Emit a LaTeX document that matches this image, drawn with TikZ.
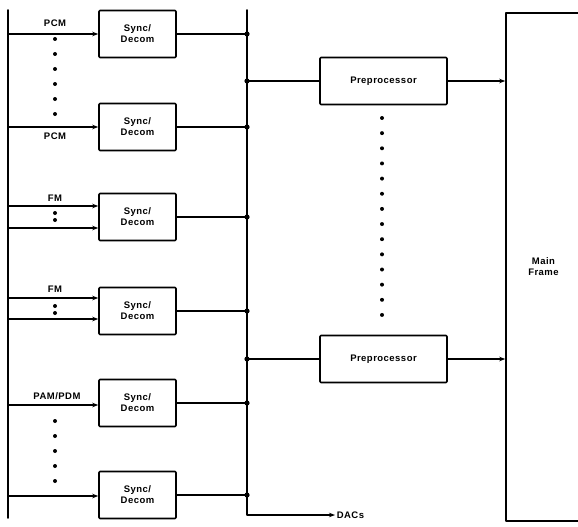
\documentclass[tikz,border=0pt]{standalone}
\usepackage{fontspec}
\setmainfont{Liberation Sans}
\newfontfamily\blockfont[LetterSpace=5]{Liberation Sans}
\usetikzlibrary{arrows.meta}
\begin{document}
\begin{tikzpicture}[>={Stealth[length=6pt,width=4.5pt]}, line join=round, line cap=round, x=1pt, y=-1pt,
    line width=1.6pt,
    every node/.style={font=\blockfont\bfseries\fontsize{9.5}{11}\selectfont},
    sync/.style={draw, rounded corners=1pt, minimum width=77pt, minimum height=47pt, align=center},
    prep/.style={draw, rounded corners=1pt, minimum width=127pt, minimum height=47pt},
    lbl/.style={inner sep=1pt}]
    \useasboundingbox (0,0) rectangle (578,527);
    \def\xin{8} \def\xbus{247} \def\xdot{55}
    % left input line and bus
    \coordinate (lt) at (\xin,10); \coordinate (lb) at (\xin,518);
    \coordinate (bt) at (\xbus,10); \coordinate (bb) at (\xbus,515);
    \draw (lt)--(lb);
    \node[anchor=west, inner sep=1pt] (dacs) at (335,515) {DACs};
    \draw[->] (bt)--(bb)--(dacs.west);
    % sync/decom boxes
    \foreach \n/\y in {1/34, 2/127, 3/217, 4/311, 5/403, 6/495}
        \node[sync] (s\n) at (137.5,\y) {Sync/\\Decom};
    % inputs
    \draw[->] (s1.west -| lt)--(s1.west);
    \draw[->] (s2.west -| lt)--(s2.west);
    \draw[->] ([yshift=11pt]s3.west -| lt)--([yshift=11pt]s3.west);
    \draw[->] ([yshift=-11pt]s3.west -| lt)--([yshift=-11pt]s3.west);
    \draw[->] ([yshift=13pt]s4.west -| lt)--([yshift=13pt]s4.west);
    \draw[->] ([yshift=-8pt]s4.west -| lt)--([yshift=-8pt]s4.west);
    \draw[->] ([yshift=-2pt]s5.west -| lt)--([yshift=-2pt]s5.west);
    \draw[->] ([yshift=-1pt]s6.west -| lt)--([yshift=-1pt]s6.west);
    % outputs to bus
    \foreach \n in {1,...,6}{
        \draw (s\n.east)--(s\n.east -| bt);
        \fill (s\n.east -| bt) circle (2.6pt);
    }
    % labels
    \node[lbl] (pcm1) at (\xdot,23) {PCM};
    \node[lbl] (pcm2) at (\xdot,136) {PCM};
    \node[lbl] (fm1) at (\xdot,198) {FM};
    \node[lbl] (fm2) at (\xdot,289) {FM};
    \node[lbl] (pam) at (57,396) {PAM/PDM};
    \foreach \y in {39,54,...,114} \fill (\xdot,\y) circle (2pt);
    \foreach \y in {213,220,306,313} \fill (\xdot,\y) circle (2pt);
    \foreach \y in {421,436,...,482} \fill (\xdot,\y) circle (2pt);
    % preprocessors and main frame
    \node[prep] (p1) at (383.5,81) {Preprocessor};
    \node[prep] (p2) at (383.5,359) {Preprocessor};
    \node[draw, minimum width=75pt, minimum height=508pt, align=center] (mf) at (543.5,267) {Main\\Frame};
    \foreach \p in {p1,p2}{
        \draw (\p.west -| bt)--(\p.west);
        \fill (\p.west -| bt) circle (2.6pt);
        \draw[->] (\p.east)--(\p.east -| mf.west);
    }
    \foreach \i in {0,...,13} \fill (382,118+15.15*\i) circle (2pt);
\end{tikzpicture}
\end{document}
